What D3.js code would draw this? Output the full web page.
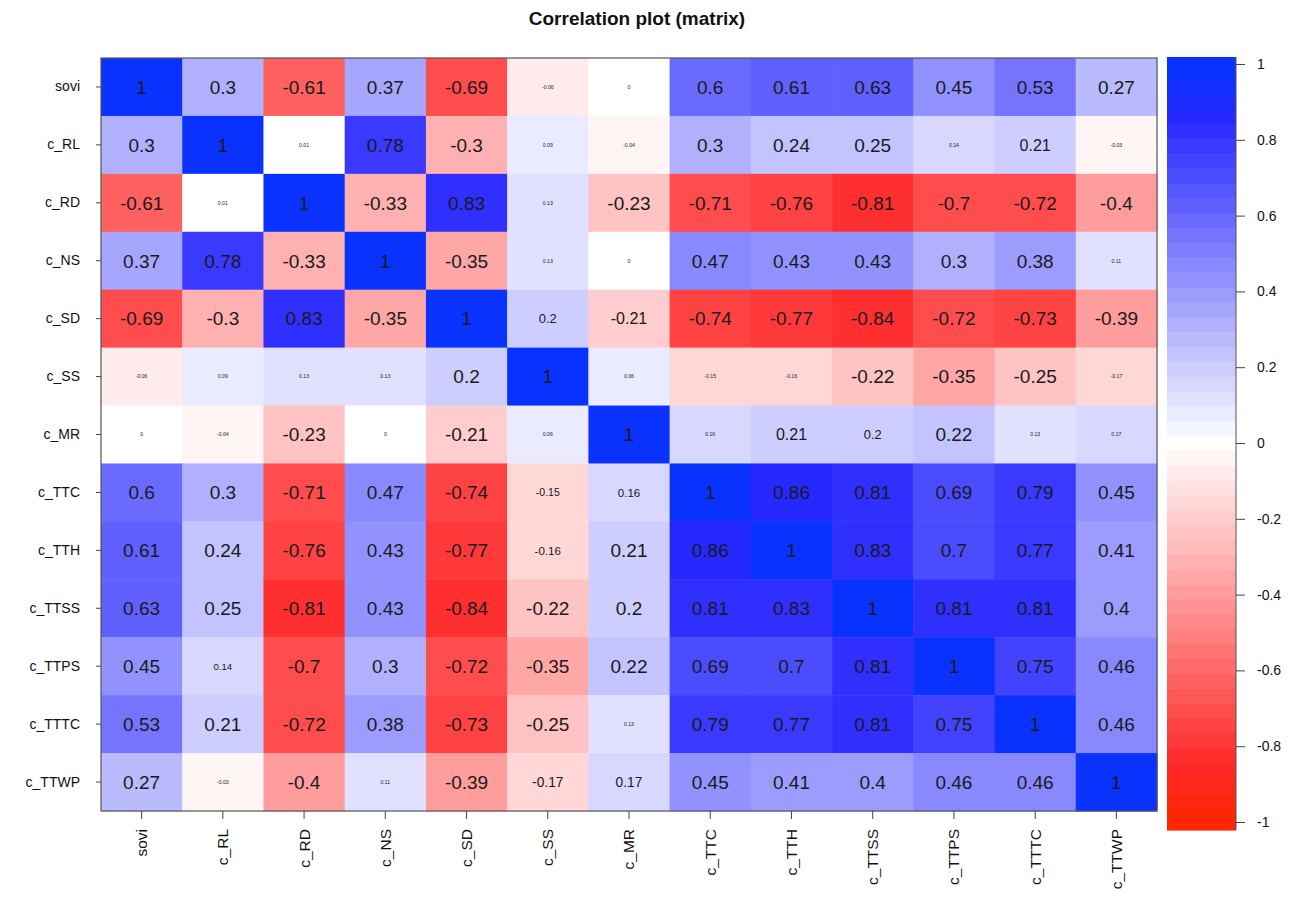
<!DOCTYPE html>
<html>
<head>
<meta charset="utf-8">
<title>Correlation plot (matrix)</title>
<script src="https://cdn.jsdelivr.net/npm/d3@7"></script>
<style>
  html, body { margin: 0; padding: 0; background: #fff; }
  svg { display: block; font-family: "Liberation Sans", Arial, Helvetica, sans-serif; }
</style>
</head>
<body>
<svg id="chart" width="1306" height="899"></svg>
<script>
// Variable names (rows top to bottom, columns left to right)
const variables = ["sovi", "c_RL", "c_RD", "c_NS", "c_SD", "c_SS", "c_MR",
                   "c_TTC", "c_TTH", "c_TTSS", "c_TTPS", "c_TTTC", "c_TTWP"];

// Correlation matrix, one array per row
const r_sovi   = [1, 0.3, -0.61, 0.37, -0.69, -0.06, 0, 0.6, 0.61, 0.63, 0.45, 0.53, 0.27];
const r_c_RL   = [0.3, 1, 0.01, 0.78, -0.3, 0.09, -0.04, 0.3, 0.24, 0.25, 0.14, 0.21, -0.03];
const r_c_RD   = [-0.61, 0.01, 1, -0.33, 0.83, 0.13, -0.23, -0.71, -0.76, -0.81, -0.7, -0.72, -0.4];
const r_c_NS   = [0.37, 0.78, -0.33, 1, -0.35, 0.13, 0, 0.47, 0.43, 0.43, 0.3, 0.38, 0.11];
const r_c_SD   = [-0.69, -0.3, 0.83, -0.35, 1, 0.2, -0.21, -0.74, -0.77, -0.84, -0.72, -0.73, -0.39];
const r_c_SS   = [-0.06, 0.09, 0.13, 0.13, 0.2, 1, 0.06, -0.15, -0.16, -0.22, -0.35, -0.25, -0.17];
const r_c_MR   = [0, -0.04, -0.23, 0, -0.21, 0.06, 1, 0.16, 0.21, 0.2, 0.22, 0.13, 0.17];
const r_c_TTC  = [0.6, 0.3, -0.71, 0.47, -0.74, -0.15, 0.16, 1, 0.86, 0.81, 0.69, 0.79, 0.45];
const r_c_TTH  = [0.61, 0.24, -0.76, 0.43, -0.77, -0.16, 0.21, 0.86, 1, 0.83, 0.7, 0.77, 0.41];
const r_c_TTSS = [0.63, 0.25, -0.81, 0.43, -0.84, -0.22, 0.2, 0.81, 0.83, 1, 0.81, 0.81, 0.4];
const r_c_TTPS = [0.45, 0.14, -0.7, 0.3, -0.72, -0.35, 0.22, 0.69, 0.7, 0.81, 1, 0.75, 0.46];
const r_c_TTTC = [0.53, 0.21, -0.72, 0.38, -0.73, -0.25, 0.13, 0.79, 0.77, 0.81, 0.75, 1, 0.46];
const r_c_TTWP = [0.27, -0.03, -0.4, 0.11, -0.39, -0.17, 0.17, 0.45, 0.41, 0.4, 0.46, 0.46, 1];

const matrix = [r_sovi, r_c_RL, r_c_RD, r_c_NS, r_c_SD, r_c_SS, r_c_MR,
                r_c_TTC, r_c_TTH, r_c_TTSS, r_c_TTPS, r_c_TTTC, r_c_TTWP];

// Colour legend ticks
const legendTicks = [1, 0.8, 0.6, 0.4, 0.2, 0, -0.2, -0.4, -0.6, -0.8, -1];

// Sample size used to scale the numbers by their significance
const nObs = 225;
const upperAdjust = 5;   // conservative p adjustment for the upper triangle
const nColors = 51;      // number of colour steps in the palette

// ---------------------------------------------------------------------------
const svg = d3.select("#chart");
const plot = { left: 101, right: 1157, top: 58, bottom: 811 };

const x = d3.scaleBand().domain(variables).range([plot.left, plot.right]).padding(0);
const y = d3.scaleBand().domain(variables).range([plot.top, plot.bottom]).padding(0);

// red - white - blue ramp, split into discrete steps
const ramp = d3.scaleLinear()
  .domain([-1, -0.85, 0, 0.85, 1])
  .range(["#ff2600", "rgb(255,40,40)", "#ffffff", "rgb(40,40,255)", "#0433ff"])
  .interpolate(d3.interpolateRgb)
  .clamp(true);
const step = 2 / nColors;
function binIndex(v) {
  return Math.max(0, Math.min(nColors - 1, Math.floor((v + 1) / step)));
}
function binColor(i) { return ramp(-1 + (i + 0.5) * step); }
const color = v => binColor(binIndex(v));

// two-sided p value of a correlation (normal approximation of t)
function erf(z) {
  const t = 1 / (1 + 0.3275911 * Math.abs(z));
  const yv = 1 - (((((1.061405429 * t - 1.453152027) * t) + 1.421413741) * t - 0.284496736) * t + 0.254829592) * t * Math.exp(-z * z);
  return z >= 0 ? yv : -yv;
}
function pValue(r) {
  if (Math.abs(r) >= 1) return 0;
  const t = Math.abs(r) * Math.sqrt(nObs - 2) / Math.sqrt(1 - r * r);
  return Math.max(1e-12, 1 - erf(t / Math.SQRT2));
}
// number size grows with -log10(p)
const textScale = d3.scaleLinear()
  .domain([1.3, 1.45, 1.85, 2.4])
  .range([0.27, 0.5, 0.62, 1])
  .clamp(true);

// Title
svg.append("text")
  .attr("x", 637)
  .attr("y", 25)
  .attr("text-anchor", "middle")
  .attr("font-weight", "bold")
  .attr("font-size", 19)
  .attr("fill", "#111")
  .text("Correlation plot (matrix)");

// Cells
const cells = [];
matrix.forEach((row, i) => row.forEach((v, j) => {
  let p = pValue(v);
  if (j > i) p = Math.min(1, p * upperAdjust);
  cells.push({ row: variables[i], col: variables[j], v, s: -Math.log10(p) });
}));

const g = svg.append("g");
g.selectAll("rect.cell")
  .data(cells)
  .join("rect")
  .attr("class", "cell")
  .attr("x", d => x(d.col))
  .attr("y", d => y(d.row))
  .attr("width", x.bandwidth() + 0.5)
  .attr("height", y.bandwidth() + 0.5)
  .attr("fill", d => color(d.v));

const baseFont = 19;
g.selectAll("text.val")
  .data(cells)
  .join("text")
  .attr("class", "val")
  .attr("x", d => x(d.col) + x.bandwidth() / 2)
  .attr("y", d => y(d.row) + y.bandwidth() / 2)
  .attr("dy", "0.36em")
  .attr("text-anchor", "middle")
  .attr("font-size", d => baseFont * textScale(d.s))
  .attr("fill", "#1a1a1a")
  .text(d => String(d.v));

// Frame
svg.append("rect")
  .attr("x", plot.left).attr("y", plot.top)
  .attr("width", plot.right - plot.left).attr("height", plot.bottom - plot.top)
  .attr("fill", "none").attr("stroke", "#555").attr("stroke-width", 1.2);

// Axes
const yAxis = svg.append("g")
  .attr("transform", `translate(${plot.left},0)`)
  .call(d3.axisLeft(y).tickSize(5).tickPadding(16));
yAxis.select(".domain").remove();
yAxis.selectAll("text").attr("font-size", 14).attr("fill", "#111")
  .style("font-family", "'Liberation Sans', Arial, sans-serif");
yAxis.selectAll("line").attr("stroke", "#444");

const xAxis = svg.append("g")
  .attr("transform", `translate(0,${plot.bottom})`)
  .call(d3.axisBottom(x).tickSize(8).tickPadding(6));
xAxis.select(".domain").remove();
xAxis.selectAll("line").attr("stroke", "#444");
xAxis.selectAll("text")
  .attr("font-size", 15.5).attr("fill", "#111")
  .style("font-family", "'Liberation Sans', Arial, sans-serif")
  .attr("text-anchor", "end")
  .attr("dy", "0.35em")
  .attr("transform", "translate(0,18) rotate(-90)")
  .attr("x", 0).attr("y", 0);

// Colour legend
const leg = { left: 1167, right: 1236, top: 57, bottom: 830 };
const ly = d3.scaleLinear().domain([-1, 1]).range([822, 64]);
const bands = d3.range(nColors).map(i => ({ i, lo: -1 + i * step, hi: -1 + (i + 1) * step }));
svg.append("g").selectAll("rect")
  .data(bands)
  .join("rect")
  .attr("x", leg.left)
  .attr("width", leg.right - leg.left)
  .attr("y", d => d.i === nColors - 1 ? leg.top : ly(d.hi))
  .attr("height", d => {
    const top = d.i === nColors - 1 ? leg.top : ly(d.hi);
    const bot = d.i === 0 ? leg.bottom : ly(d.lo);
    return bot - top + 0.6;
  })
  .attr("fill", d => binColor(d.i));

const legAxis = svg.append("g")
  .attr("transform", `translate(${leg.right},0)`)
  .call(d3.axisRight(ly).tickValues(legendTicks).tickSize(9).tickPadding(12)
    .tickFormat(d => String(d)));
legAxis.select(".domain").attr("stroke", "#555").attr("d", `M0,${leg.top}V${leg.bottom}`);
legAxis.selectAll("line").attr("stroke", "#444");
legAxis.selectAll("text").attr("font-size", 14).attr("fill", "#111")
  .style("font-family", "'Liberation Sans', Arial, sans-serif");
</script>
</body>
</html>
